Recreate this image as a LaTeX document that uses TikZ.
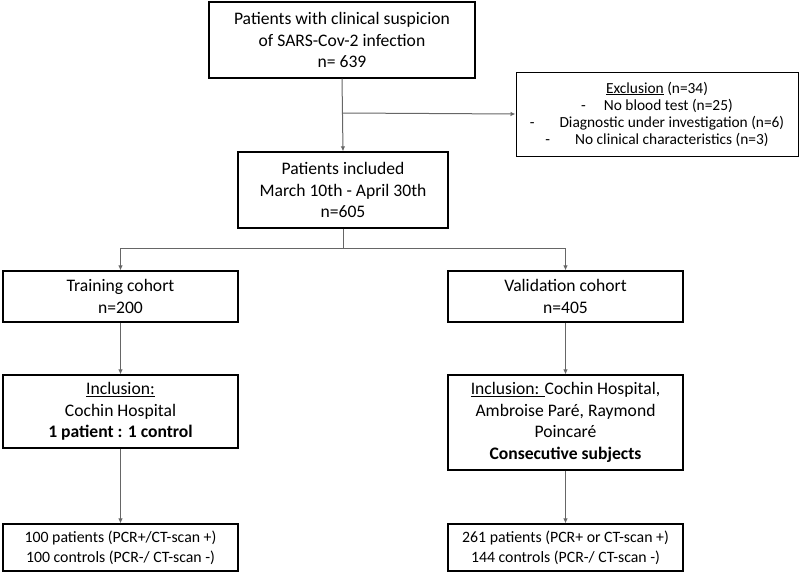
\documentclass[tikz,border=0pt]{standalone}
\usepackage{fontspec}
\setmainfont{Carlito}
\usetikzlibrary{arrows.meta}
\tikzset{
  box/.style={draw=black, line width=1.2pt, align=center, inner sep=2pt,
    font=\fontsize{17.6}{21.7}\selectfont},
  smallbox/.style={box, font=\fontsize{15.8}{20}\selectfont},
  exbox/.style={box, line width=1pt, font=\fontsize{15.4}{17}\selectfont},
  conn/.style={draw=black!60, line width=1pt, -{Latex[length=5pt,width=4.5pt]}},
  plain/.style={draw=black!60, line width=1pt}
}
\begin{document}
\begin{tikzpicture}[x=1pt,y=-1pt]
\useasboundingbox (0,0) rectangle (800,573);
\node[box, minimum width=266pt, minimum height=76pt] (top) at (342,40)
  {Patients with clinical suspicion\\of SARS-Cov-2 infection\\n= 639};
\node[exbox, minimum width=282pt, minimum height=84pt] (excl) at (657,114)
  {\underline{Exclusion} (n=34)\\
   -\hspace{18pt}No blood test (n=25)\\
   -\hspace{25pt}Diagnostic under investigation (n=6)\\
   -\hspace{25pt}No clinical characteristics (n=3)};
\node[box, minimum width=210pt, minimum height=76pt] (incl) at (343,190)
  {Patients included\\March 10th - April 30th\\n=605};
\node[box, minimum width=235pt, minimum height=51pt] (train) at (120.5,296.5)
  {Training cohort\\n=200};
\node[box, minimum width=235pt, minimum height=51pt] (valid) at (565.5,296.5)
  {Validation cohort\\n=405};
\node[box, minimum width=235pt, minimum height=73pt] (inclL) at (120.5,411.5)
  {\underline{Inclusion:}\\Cochin Hospital\\\textbf{1 patient : 1 control}};
\node[box, minimum width=235pt, minimum height=95pt] (inclR) at (565.5,422.5)
  {\underline{Inclusion: }Cochin Hospital,\\Ambroise Paré, Raymond\\Poincaré\\\textbf{Consecutive subjects}};
\node[smallbox, minimum width=235pt, minimum height=47pt] (botL) at (120.5,547.5)
  {100 patients (PCR+/CT-scan +)\\100 controls (PCR-/ CT-scan -)};
\node[smallbox, minimum width=235pt, minimum height=47pt] (botR) at (565.5,547.5)
  {261 patients (PCR+ or CT-scan +)\\144 controls (PCR-/ CT-scan -)};
\coordinate (branch) at (343,113);
\coordinate (split) at (343,248);
\draw[conn] (top.south) -- (incl.north);
\draw[conn] (branch) -- (excl.west);
\draw[plain] (incl.south) -- (split);
\draw[conn] (split) -| (train.north);
\draw[conn] (split) -| (valid.north);
\draw[conn] (train.south) -- (inclL.north);
\draw[conn] (inclL.south) -- (botL.north);
\draw[conn] (valid.south) -- (inclR.north);
\draw[conn] (inclR.south) -- (botR.north);
\end{tikzpicture}
\end{document}
